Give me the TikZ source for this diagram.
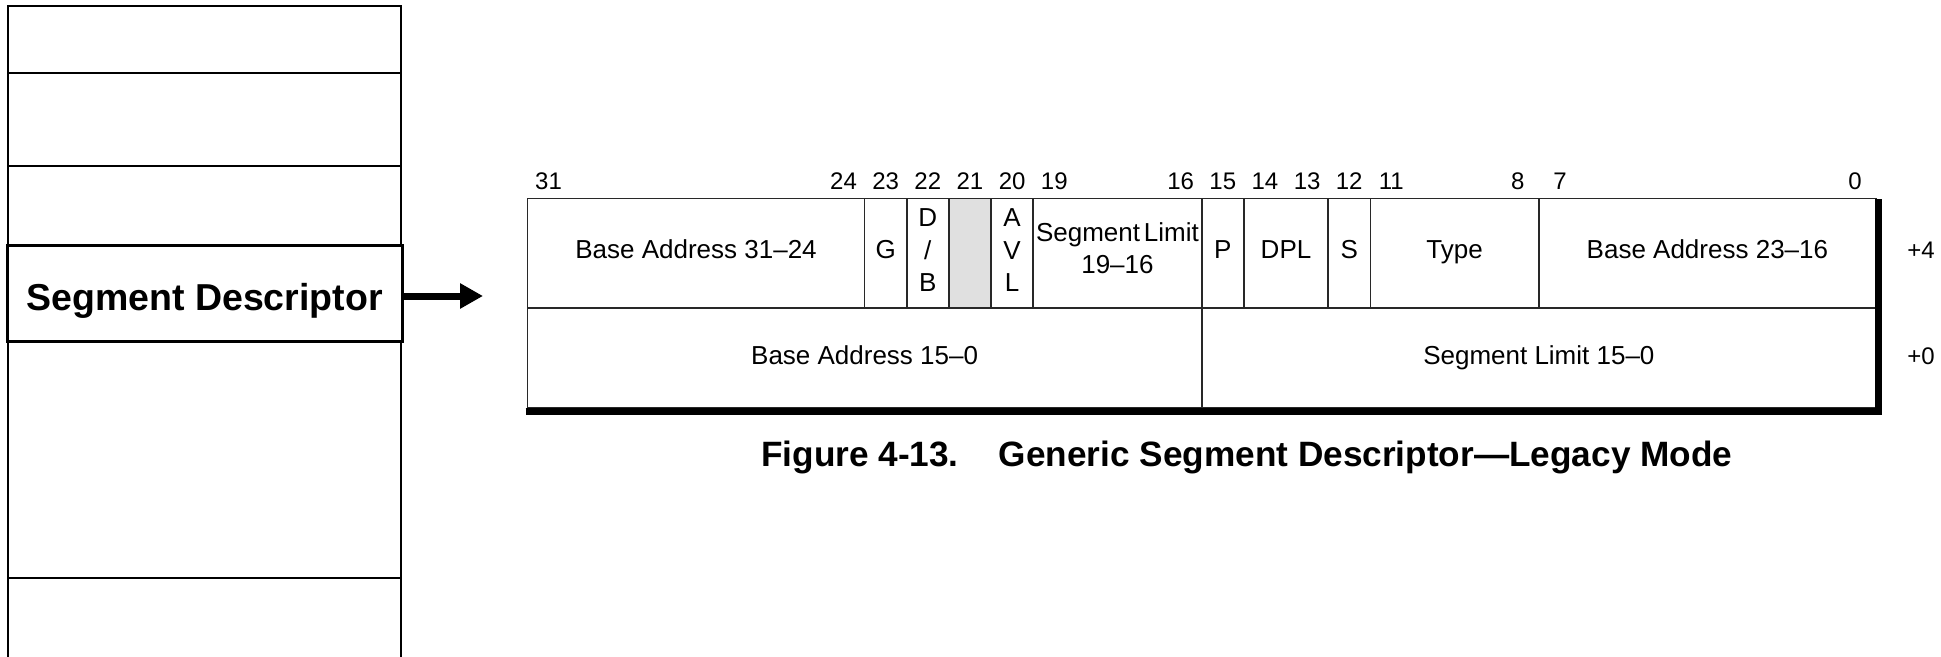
\documentclass[tikz,border=0pt]{standalone}
\usepackage{fontspec}
\setmainfont{Liberation Sans}
\usetikzlibrary{arrows.meta}
\definecolor{rule}{RGB}{40,40,40}
\definecolor{reservedgray}{RGB}{224,224,224}

% one field of the descriptor: name, high bit, low bit, top edge, height
\newcommand\descfield[6][]{%
  \pgfmathsetmacro\fx{527.5+(31-#3)*42.14}%
  \pgfmathsetmacro\fw{(#3-#4+1)*42.14}%
  \node[cell,#1,minimum width=\fw pt,minimum height=#6 pt] (#2) at (\fx,#5) {};%
}

\begin{document}
\begin{tikzpicture}[x=1pt,y=-1pt,
  slot/.style={draw=black,line width=2.4pt,inner sep=0pt,outer sep=0pt,
    anchor=north west,minimum width=393pt},
  selslot/.style={slot,line width=3pt,minimum width=395pt,
    font=\bfseries\fontsize{37.5}{44}\selectfont,text height=33.5pt,text depth=0pt},
  cell/.style={draw=rule,line width=1.6pt,inner sep=0pt,outer sep=0pt,anchor=north west},
  celltext/.style={font=\fontsize{26}{32}\selectfont,inner sep=0pt,anchor=base},
  stacktext/.style={font=\fontsize{26}{32.5}\selectfont,inner sep=0pt,align=center,anchor=center},
  bitno/.style={font=\fontsize{24}{28}\selectfont,inner sep=0pt,anchor=base},
  captiontext/.style={font=\bfseries\fontsize{35.2}{40}\selectfont,inner sep=0pt,anchor=base west},
  pointer/.style={line width=7pt,-{Triangle[length=23pt,width=24pt]}},
  frameedge/.style={draw=black,line width=7pt,line join=miter}
]
\useasboundingbox (0,0) rectangle (1941,656);
\clip (0,0) rectangle (1941,656);

% descriptor table in memory
\node[slot,minimum height=66.7pt]  (slot1) at (8,6) {};
\node[slot,minimum height=93pt]    (slot2) at (8,72.7) {};
\node[slot,minimum height=79.8pt]  (slot3) at (8,165.7) {};
\node[slot,minimum height=236.7pt] (slot5) at (8,341) {};
\node[slot,minimum height=142.3pt] (slot6) at (8,577.7) {};
\node[selslot,minimum height=95.5pt] (sd) at (7,245.5) {Segment Descriptor};

\coordinate (sdtip) at (483,296);
\draw[pointer] (sd.east |- sdtip) -- (sdtip);

% upper doubleword (+4)
\descfield{ba3124}{31}{24}{198.5}{109.5}
\descfield{g}{23}{23}{198.5}{109.5}
\descfield{db}{22}{22}{198.5}{109.5}
\descfield[fill=reservedgray]{rsv}{21}{21}{198.5}{109.5}
\descfield{avl}{20}{20}{198.5}{109.5}
\descfield{sl1916}{19}{16}{198.5}{109.5}
\descfield{p}{15}{15}{198.5}{109.5}
\descfield{dpl}{14}{13}{198.5}{109.5}
\descfield{s}{12}{12}{198.5}{109.5}
\descfield{type}{11}{8}{198.5}{109.5}
\descfield{ba2316}{7}{0}{198.5}{109.5}
% lower doubleword (+0)
\descfield{ba150}{31}{16}{308}{100}
\descfield{sl150}{15}{0}{308}{100}

% heavy bottom and right edges
\draw[frameedge] ([shift={(-2pt,-3.5pt)}]ba150.south west) -| ([xshift=2.5pt]ba2316.north east);

% field labels
\node[celltext] (t-ba3124) at ([yshift=-5pt]ba3124.center) {Base Address 31–24};
\node[celltext] (t-g) at ([yshift=-5pt]g.center) {G};
\node[stacktext] (t-db) at ([yshift=3pt]db.center) {D\\/\\B};
\node[stacktext] (t-avl) at ([yshift=3pt]avl.center) {A\\V\\L};
\node[stacktext,font=\fontsize{26}{31.8}\selectfont] (t-sl1916) at ([yshift=4.7pt]sl1916.center) {Segment\hspace{0.15em}Limit\\19–16};
\node[celltext] (t-p) at ([yshift=-5pt]p.center) {P};
\node[celltext] (t-dpl) at ([yshift=-5pt]dpl.center) {DPL};
\node[celltext] (t-s) at ([yshift=-5pt]s.center) {S};
\node[celltext] (t-type) at ([yshift=-5pt]type.center) {Type};
\node[celltext] (t-ba2316) at ([yshift=-5pt]ba2316.center) {Base Address 23–16};
\node[celltext] (t-ba150) at ([yshift=-6pt]ba150.center) {Base Address 15–0};
\node[celltext] (t-sl150) at ([yshift=-6pt]sl150.center) {Segment Limit 15–0};

% bit positions
\foreach \b in {31,24,23,22,21,20,19,16,15,14,13,12,11,8,7,0}
  \node[bitno] (bit\b) at ({527.5+(31-\b+0.5)*42.14},189.5) {\b};

% byte offsets
\node[bitno] (off4) at (1921,258.3) {+4};
\node[bitno] (off0) at (1921,364) {+0};

\node[captiontext] (caption) at (761,466.7) {Figure 4-13.\hspace{40pt}Generic Segment Descriptor—Legacy Mode};
\end{tikzpicture}
\end{document}
